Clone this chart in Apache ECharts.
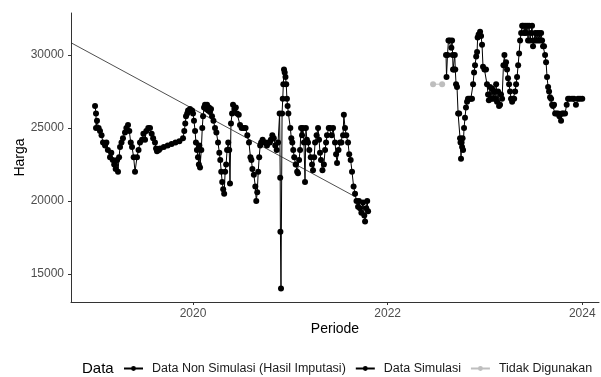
<!DOCTYPE html>
<html lang="id">
<head>
<meta charset="UTF-8">
<title>Harga</title>
<script src="https://cdn.jsdelivr.net/npm/echarts@6/dist/echarts.min.js"></script>
<style>
  html, body { margin: 0; padding: 0; background: #fff; }
  #chart { width: 601px; height: 377px; }
</style>
</head>
<body>
<div id="chart"></div>
<script>
// periode dalam tahun desimal, harga dalam rupiah
var tahunNon = [
  2018.993, 2019.003, 2019.003, 2019.013, 2019.030, 2019.044, 2019.060, 2019.075, 2019.096, 2019.110,
  2019.125, 2019.147, 2019.160, 2019.175, 2019.190, 2019.205, 2019.220, 2019.229, 2019.240, 2019.250,
  2019.265, 2019.280, 2019.301, 2019.315, 2019.332, 2019.345, 2019.360, 2019.373, 2019.390, 2019.404,
  2019.424, 2019.440, 2019.455, 2019.476, 2019.490, 2019.507, 2019.520, 2019.540, 2019.558, 2019.575,
  2019.590, 2019.609, 2019.620, 2019.630, 2019.650, 2019.661, 2019.700, 2019.740, 2019.780, 2019.820,
  2019.860, 2019.897, 2019.910, 2019.920, 2019.928, 2019.940, 2019.949, 2019.969, 2019.990, 2020.000,
  2020.010, 2020.021, 2020.030, 2020.040, 2020.051, 2020.060, 2020.065, 2020.072, 2020.085, 2020.095,
  2020.103, 2020.113, 2020.123, 2020.134, 2020.144, 2020.155, 2020.165, 2020.175, 2020.185, 2020.195,
  2020.210, 2020.226, 2020.240, 2020.257, 2020.270, 2020.280, 2020.290, 2020.300, 2020.310, 2020.320,
  2020.330, 2020.340, 2020.350, 2020.362, 2020.372, 2020.380, 2020.390, 2020.401, 2020.411, 2020.425,
  2020.440, 2020.452, 2020.470, 2020.483, 2020.500, 2020.520, 2020.540, 2020.558, 2020.575, 2020.590,
  2020.600, 2020.610, 2020.625, 2020.640, 2020.650, 2020.660, 2020.670, 2020.680, 2020.690, 2020.700,
  2020.715, 2020.730, 2020.745, 2020.760, 2020.775, 2020.790, 2020.800, 2020.815, 2020.830, 2020.845,
  2020.860, 2020.874, 2020.890, 2020.896, 2020.898, 2020.904, 2020.915, 2020.922, 2020.928, 2020.935,
  2020.942, 2020.950, 2020.958, 2020.965, 2020.972, 2020.980, 2021.000, 2021.010, 2021.020, 2021.030,
  2021.040, 2021.055, 2021.070, 2021.079, 2021.090, 2021.100, 2021.110, 2021.120, 2021.130, 2021.140,
  2021.151, 2021.160, 2021.170, 2021.182, 2021.195, 2021.210, 2021.223, 2021.233, 2021.245, 2021.254,
  2021.270, 2021.285, 2021.295, 2021.305, 2021.315, 2021.330, 2021.345, 2021.357, 2021.367, 2021.377,
  2021.395, 2021.408, 2021.425, 2021.439, 2021.459, 2021.470, 2021.480, 2021.495, 2021.511, 2021.525,
  2021.542, 2021.550, 2021.562, 2021.575, 2021.593, 2021.605, 2021.620, 2021.634, 2021.650, 2021.665,
  2021.680, 2021.696, 2021.705, 2021.716, 2021.730, 2021.747, 2021.760, 2021.768, 2021.780, 2021.790,
  2021.799
];
var hargaNon = [
  26500, 26000, 25000, 25500, 25000, 24800, 24500, 24000, 23800, 24000,
  23500, 23000, 23300, 22800, 22500, 22200, 22800, 22000, 23000, 23700,
  24000, 24300, 24700, 25000, 25200, 24800, 24000, 23700, 23000, 22000,
  23000, 23500, 24000, 24200, 24600, 24200, 24800, 25000, 25000, 24600,
  24300, 24000, 23600, 23400, 23500, 23600, 23700, 23800, 23900, 24000,
  24100, 24300, 24800, 25300, 25800, 26000, 26200, 26300, 26200, 26000,
  25500, 24800, 24000, 23500, 23000, 22500, 23800, 22300, 23500, 25000,
  25800, 26400, 26600, 26300, 26600, 26200, 26400, 26100, 26300, 25800,
  25500, 25000, 24700, 24000, 23300, 22800, 22000, 21300, 20800, 20500,
  22000, 22500, 23500, 24000, 23500, 21200, 25300, 26000, 26600, 26300,
  26400, 26000, 25900, 25200, 25000, 25000, 25000, 24500, 24000, 23000,
  22800, 22200, 21800, 21000, 20000, 20600, 22000, 23000, 23800, 24000,
  24200, 24000, 24000, 23800, 24000, 24000, 24200, 24500, 24300, 23800,
  23500, 24000, 26000, 21600, 17900, 14000, 26000, 27000, 28000, 29000,
  28800, 28500, 28000, 27000, 26500, 26000, 25000, 24300, 24000, 23500,
  23000, 22500, 22000, 21900, 22800, 23500, 25000, 24500, 25000, 24000,
  21300, 25000, 24200, 24000, 23500, 23000, 22500, 22100, 23000, 24000,
  24500, 25000, 24200, 23300, 22800, 22100, 22500, 23500, 24000, 24500,
  25000, 25000, 24500, 25000, 24000, 23200, 22600, 23500, 24000, 24000,
  24500, 25900, 25000, 24500, 24000, 23200, 22800, 22000, 21000, 20500,
  20000, 19600, 20000, 19500, 19200, 19900, 19000, 18600, 19500, 20000,
  19300
];
var tahunSim = [
  2022.600, 2022.605, 2022.615, 2022.625, 2022.640, 2022.655, 2022.662, 2022.668, 2022.672, 2022.680,
  2022.690, 2022.695, 2022.703, 2022.713, 2022.724, 2022.735, 2022.744, 2022.749, 2022.754, 2022.760,
  2022.765, 2022.770, 2022.775, 2022.785, 2022.795, 2022.805, 2022.816, 2022.826, 2022.840, 2022.855,
  2022.867, 2022.878, 2022.888, 2022.898, 2022.910, 2022.919, 2022.925, 2022.935, 2022.950, 2022.960,
  2022.970, 2022.980, 2022.995, 2023.011, 2023.021, 2023.032, 2023.040, 2023.052, 2023.062, 2023.073,
  2023.083, 2023.093, 2023.105, 2023.115, 2023.124, 2023.135, 2023.145, 2023.155, 2023.165, 2023.176,
  2023.190, 2023.200, 2023.207, 2023.217, 2023.227, 2023.237, 2023.248, 2023.258, 2023.268, 2023.279,
  2023.289, 2023.300, 2023.310, 2023.320, 2023.330, 2023.341, 2023.351, 2023.361, 2023.372, 2023.382,
  2023.392, 2023.402, 2023.412, 2023.422, 2023.433, 2023.443, 2023.453, 2023.464, 2023.474, 2023.484,
  2023.494, 2023.505, 2023.515, 2023.525, 2023.536, 2023.546, 2023.556, 2023.566, 2023.577, 2023.587,
  2023.597, 2023.607, 2023.618, 2023.628, 2023.638, 2023.649, 2023.659, 2023.669, 2023.680, 2023.690,
  2023.700, 2023.710, 2023.721, 2023.735, 2023.751, 2023.765, 2023.782, 2023.792, 2023.805, 2023.823,
  2023.840, 2023.854, 2023.870, 2023.895, 2023.915, 2023.935, 2023.957, 2023.977, 2024.000
];
var hargaSim = [
  30000, 28500, 30000, 31000, 31000, 30500, 31000, 30000, 29000, 29000,
  30000, 29000, 28000, 27800, 26000, 26000, 24300, 24000, 22900, 24000,
  23700, 24300, 23500, 25000, 25700, 26400, 26800, 27000, 27000, 27000,
  27000, 28000, 28800, 29300, 29900, 30200, 31200, 31400, 31600, 31300,
  30700, 29200, 29000, 29000, 28000, 27300, 26900, 27800, 27000, 27700,
  27000, 27500, 27000, 28000, 26800, 27500, 26500, 26600, 27300, 27000,
  29300, 30000, 29300, 29500, 29000, 28400, 28000, 27500, 27000, 26800,
  27000, 27000, 27500, 28000, 28500, 29300, 30100, 31000, 31500, 32000,
  32000, 31500, 32000, 31500, 32000, 31000, 32000, 31000, 31500, 32000,
  30600, 31000, 31500, 31000, 31500, 31000, 31500, 31000, 31500, 31000,
  30600, 30600, 30000, 29500, 28500, 27800, 27500, 27100, 27000, 26600,
  26500, 26600, 26000, 26000, 26000, 25800, 25500, 26000, 26000, 26000,
  26600, 27000, 27000, 27000, 27000, 26600, 27000, 27000, 27000
];
var tahunTidak = [2022.467, 2022.560];
var hargaTidak = [28000, 28000];
var tahunTren = [2018.746, 2021.665];
var hargaTren = [30840, 20300];
var tickX = [2020, 2022, 2024];
var tickY = [15000, 20000, 25000, 30000];

function pasang(xs, ys) {
  return xs.map(function (x, i) { return [x, ys[i]]; });
}

var chart = echarts.init(document.getElementById('chart'));
var font = 'Liberation Sans, Arial, sans-serif';
var option = {
  animation: false,
  textStyle: { fontFamily: font },
  grid: { left: 71, right: 2, top: 13, bottom: 75 },
  graphic: [{
    type: 'text', left: 82, top: 361,
    style: { text: 'Data', fontSize: 15, fill: '#000', fontFamily: font }
  }],
  legend: {
    data: ['Data Non Simulasi (Hasil Imputasi)', 'Data Simulasi', 'Tidak Digunakan'],
    left: 123, top: 362, padding: 0,
    itemWidth: 19, itemHeight: 6, itemGap: 9,
    textStyle: { fontSize: 12.5, color: '#1a1a1a', fontFamily: font, padding: [0, 0, 0, 4] }
  },
  xAxis: {
    type: 'value', min: 2018.746, max: 2024.172,
    name: 'Periode', nameLocation: 'middle', nameGap: 20, nameMoveOverlap: false,
    nameTextStyle: { fontSize: 14, color: '#000', fontFamily: font },
    axisLine: { lineStyle: { color: '#333', width: 1 } },
    axisTick: { length: 3, lineStyle: { color: '#333' }, customValues: tickX },
    axisLabel: { fontSize: 12, color: '#4d4d4d', margin: 6, customValues: tickX,
      formatter: function (v) { return String(v); } },
    splitLine: { show: false }
  },
  yAxis: {
    type: 'value', min: 13082, max: 32877,
    name: 'Harga', nameLocation: 'middle', nameGap: 44, nameMoveOverlap: false,
    nameTextStyle: { fontSize: 14, color: '#000', fontFamily: font },
    axisLine: { show: true, lineStyle: { color: '#333', width: 1 } },
    axisTick: { show: true, length: 3, lineStyle: { color: '#333' }, customValues: tickY },
    axisLabel: { fontSize: 12, color: '#4d4d4d', margin: 7, customValues: tickY,
      formatter: function (v) { return String(v); } },
    splitLine: { show: false }
  },
  series: [
    {
      name: 'Data Non Simulasi (Hasil Imputasi)', type: 'line',
      data: pasang(tahunNon, hargaNon),
      symbol: 'circle', symbolSize: 6, showAllSymbol: true,
      itemStyle: { color: '#000' }, lineStyle: { color: '#000', width: 1 }
    },
    {
      name: 'Data Simulasi', type: 'line',
      data: pasang(tahunSim, hargaSim),
      symbol: 'circle', symbolSize: 6, showAllSymbol: true,
      itemStyle: { color: '#000' }, lineStyle: { color: '#000', width: 1 }
    },
    {
      name: 'Tidak Digunakan', type: 'line',
      data: pasang(tahunTidak, hargaTidak),
      symbol: 'circle', symbolSize: 6,
      itemStyle: { color: '#bebebe' }, lineStyle: { color: '#bebebe', width: 1 }
    },
    {
      name: 'tren', type: 'line',
      data: pasang(tahunTren, hargaTren),
      symbol: 'none', lineStyle: { color: '#222', width: 0.8 }
    }
  ]
};
chart.setOption(option);
</script>
</body>
</html>
